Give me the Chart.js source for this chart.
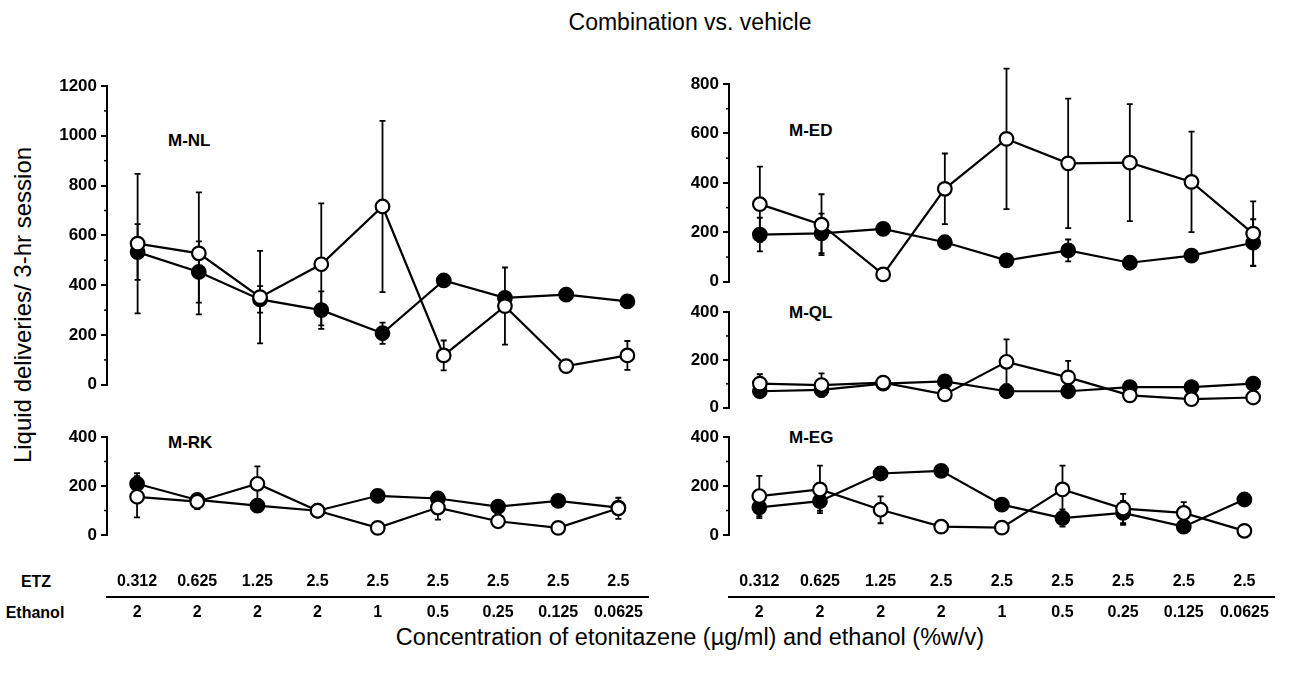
<!DOCTYPE html>
<html><head><meta charset="utf-8">
<script src="https://cdn.jsdelivr.net/npm/chart.js@4.4.1/dist/chart.umd.min.js"></script>
<style>
body{margin:0;background:#fff;width:1293px;height:675px;overflow:hidden;position:relative;font-family:"Liberation Sans",Arial,sans-serif;color:#000;}
canvas{position:absolute;}
.t{position:absolute;white-space:nowrap;line-height:1;}
.b{font-weight:bold;}
</style></head><body>
<div class="t" style="left:0;width:1380px;top:11px;text-align:center;font-size:23px;">Combination vs. vehicle</div>
<div class="t" style="left:0;width:1380px;top:626px;text-align:center;font-size:23.5px;">Concentration of etonitazene (µg/ml) and ethanol (%w/v)</div>
<div class="t" style="left:23px;top:305px;transform:translate(-50%,-50%) rotate(-90deg);font-size:24px;">Liquid deliveries/ 3-hr session</div>
<div class="t b" style="left:36px;top:582px;transform:translate(-50%,-50%);font-size:16px;">ETZ</div>
<div class="t b" style="left:35px;top:613px;transform:translate(-50%,-50%);font-size:16px;">Ethanol</div>
<div class="t b" style="left:168px;top:132px;font-size:17px;">M-NL</div>
<div class="t b" style="left:168px;top:434px;font-size:17px;">M-RK</div>
<div class="t b" style="left:789px;top:122px;font-size:17px;">M-ED</div>
<div class="t b" style="left:789px;top:304px;font-size:17px;">M-QL</div>
<div class="t b" style="left:789px;top:429px;font-size:17px;">M-EG</div>

<canvas id="cNL" width="620" height="333" style="left:47px;top:66px"></canvas>
<canvas id="cRK" width="620" height="210" style="left:47px;top:417px"></canvas>
<canvas id="cED" width="624" height="232" style="left:669px;top:64px"></canvas>
<canvas id="cQL" width="624" height="130" style="left:669px;top:292px"></canvas>
<canvas id="cEG" width="624" height="210" style="left:669px;top:417px"></canvas>
<script>
const etzLabels = ['0.312','0.625','1.25','2.5','2.5','2.5','2.5','2.5','2.5'];
const ethanolLabels = ['2','2','2','2','1','0.5','0.25','0.125','0.0625'];

const nlOpen      = [567, 528, 352, 484, 716, 118, 316, 75, 118];
const nlOpenErr   = [280, 245, 186, 245, 344, 60, 155, 0, 58];
const nlFilled    = [533, 453, 343, 300, 207, 419, 349, 362, 335];
const nlFilledErr = [112, 123, 53, 75, 43, 0, 0, 0, 20];

const rkOpen      = [156, 136, 209, 99, 29, 112, 56, 29, 109];
const rkOpenErr   = [84, 30, 71, 0, 0, 49, 0, 0, 43];
const rkFilled    = [209, 143, 120, 99, 160, 149, 116, 139, 112];
const rkFilledErr = [43, 25, 24, 0, 0, 0, 0, 0, 0];

const edOpen      = [314, 231, 30, 376, 578, 479, 482, 404, 195];
const edOpenErr   = [152, 123, 0, 143, 284, 262, 237, 203, 130];
const edFilled    = [191, 196, 214, 160, 87, 127, 77, 106, 158];
const edFilledErr = [68, 80, 0, 0, 20, 44, 0, 22, 95];

const qlOpen      = [101, 95, 105, 56, 192, 127, 52, 36, 43];
const qlOpenErr   = [39, 49, 0, 0, 94, 69, 0, 0, 0];
const qlFilled    = [69, 75, 101, 110, 69, 69, 86, 86, 101];
const qlFilledErr = [20, 25, 0, 0, 0, 0, 0, 0, 0];

const egOpen      = [159, 186, 103, 34, 30, 186, 108, 90, 17];
const egOpenErr   = [82, 97, 55, 0, 0, 97, 60, 44, 0];
const egFilled    = [113, 138, 251, 262, 124, 69, 90, 34, 145];
const egFilledErr = [44, 39, 0, 0, 0, 35, 49, 0, 0];

const FONT = '"Liberation Sans", Arial, sans-serif';

const errorBars = {
  id: 'errorBars',
  beforeDatasetsDraw(chart) {
    const ctx = chart.ctx, ys = chart.scales.y;
    chart.data.datasets.forEach((ds, i) => {
      const meta = chart.getDatasetMeta(i);
      ctx.save();
      ctx.strokeStyle = '#000';
      ctx.lineWidth = 1.8;
      meta.data.forEach((pt, j) => {
        const e = ds.errors[j];
        if (!e) return;
        const v = ds.data[j];
        const y1 = ys.getPixelForValue(v + e), y2 = ys.getPixelForValue(v - e);
        ctx.beginPath();
        ctx.moveTo(pt.x, y1); ctx.lineTo(pt.x, y2);
        ctx.moveTo(pt.x - 3, y1); ctx.lineTo(pt.x + 3, y1);
        ctx.moveTo(pt.x - 3, y2); ctx.lineTo(pt.x + 3, y2);
        ctx.stroke();
      });
      ctx.restore();
    });
  }
};

// short minor tick marks at the odd hundreds on each y axis
const minorTicks = {
  id: 'minorTicks',
  afterDraw(chart) {
    const ys = chart.scales.y, ctx = chart.ctx;
    ctx.save();
    ctx.strokeStyle = '#000';
    ctx.lineWidth = 1.5;
    for (let v = 100; v < ys.max; v += 200) {
      const y = ys.getPixelForValue(v);
      ctx.beginPath();
      ctx.moveTo(ys.right - 3, y); ctx.lineTo(ys.right + 1, y);
      ctx.stroke();
    }
    ctx.restore();
  }
};

function series(data, errors, fill) {
  return {
    data: data, errors: errors,
    borderColor: '#000', borderWidth: 2.2, tension: 0, clip: false,
    pointRadius: 6.8, pointHoverRadius: 6.8,
    pointBackgroundColor: fill, pointBorderColor: '#000', pointBorderWidth: 2.2
  };
}

function makeChart(id, open, openErr, filled, filledErr, yMax, bottom) {
  const tickFont = {family: FONT, size: 17, weight: 'bold'};
  const rowFont = {family: FONT, size: 16, weight: 'bold'};
  const scales = {
    y: {
      min: 0, max: yMax, position: 'left',
      afterFit: s => { s.width = 60; },
      ticks: {stepSize: 200, color: '#000', font: tickFont, padding: 4, callback: v => String(v)},
      grid: {display: true, drawOnChartArea: false, drawTicks: true, tickLength: 6, color: '#000', lineWidth: 2},
      border: {display: true, color: '#000', width: 2}
    }
  };
  if (bottom) {
    scales.x = {
      type: 'category', offset: true, position: 'bottom', weight: 0,
      afterFit: s => { s.height = 62; },
      grid: {display: false, drawTicks: false}, border: {display: false},
      ticks: {padding: 37, color: '#000', font: rowFont, autoSkip: false, maxRotation: 0}
    };
    scales.x2 = {
      type: 'category', labels: ethanolLabels, offset: true, position: 'bottom', weight: 1,
      afterFit: s => { s.height = 30; },
      grid: {display: false, drawTicks: false}, border: {display: true, color: '#000', width: 2},
      ticks: {padding: 6, color: '#000', font: rowFont, autoSkip: false, maxRotation: 0}
    };
  } else {
    scales.x = {type: 'category', offset: true, display: false};
  }
  return new Chart(document.getElementById(id), {
    type: 'line',
    data: {
      labels: etzLabels,
      datasets: [series(open, openErr, '#fff'), series(filled, filledErr, '#000')]
    },
    options: {
      responsive: false, animation: false,
      layout: {padding: {top: 20, bottom: bottom ? 0 : 10, left: 0, right: 0}},
      plugins: {legend: {display: false}, tooltip: {enabled: false}, title: {display: false}},
      scales: scales
    },
    plugins: [errorBars, minorTicks]
  });
}

makeChart('cNL', nlOpen, nlOpenErr, nlFilled, nlFilledErr, 1200, false);
makeChart('cRK', rkOpen, rkOpenErr, rkFilled, rkFilledErr, 400, true);
makeChart('cED', edOpen, edOpenErr, edFilled, edFilledErr, 800, false);
makeChart('cQL', qlOpen, qlOpenErr, qlFilled, qlFilledErr, 400, false);
makeChart('cEG', egOpen, egOpenErr, egFilled, egFilledErr, 400, true);
</script>
</body></html>
